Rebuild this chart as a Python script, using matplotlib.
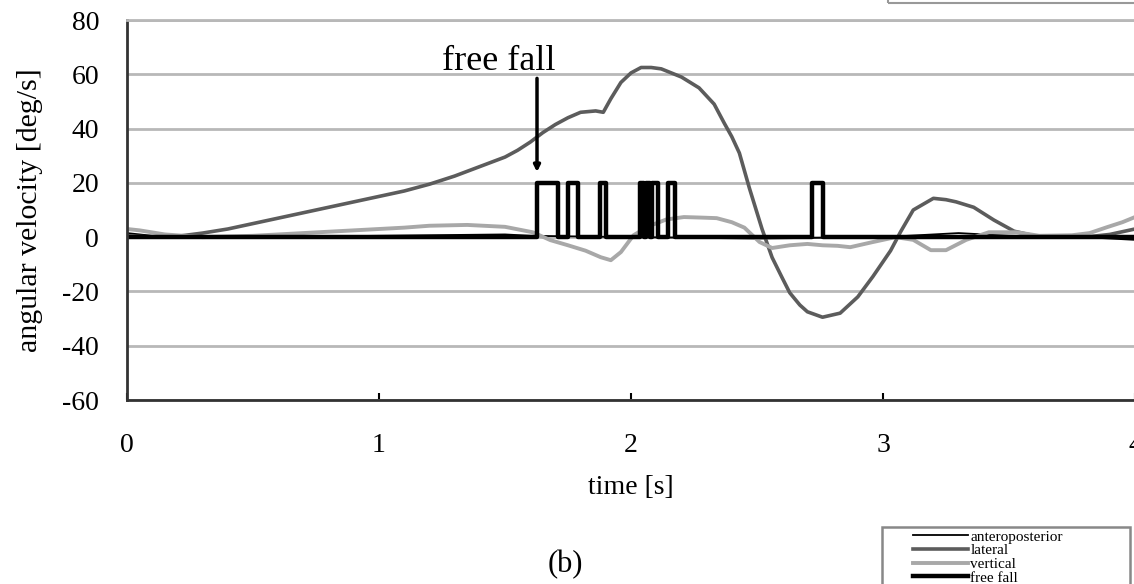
import matplotlib
matplotlib.use("Agg")
import matplotlib.pyplot as plt
from matplotlib.patches import Rectangle

plt.rcParams['font.family'] = ['Liberation Serif', 'DejaVu Serif']
plt.rcParams['axes.unicode_minus'] = False

# lateral angular velocity
lat_t = [0, 0.1, 0.2, 0.3, 0.4, 0.5, 0.6, 0.7, 0.8, 0.9, 1.0, 1.1, 1.2, 1.3, 1.4,
         1.5, 1.55, 1.6, 1.65, 1.7, 1.75, 1.8, 1.86, 1.89, 1.92, 1.96, 2.0, 2.04,
         2.08, 2.12, 2.16, 2.2, 2.27, 2.33, 2.37, 2.4, 2.43, 2.47, 2.52, 2.56, 2.6,
         2.63, 2.67, 2.7, 2.76, 2.83, 2.9, 2.96, 3.03, 3.07, 3.12, 3.2, 3.25, 3.29,
         3.36, 3.44, 3.52, 3.6, 3.7, 3.8, 3.9, 4.0]
lat_v = [0.5, 0, 0.3, 1.5, 3, 5, 7, 9, 11, 13, 15, 17, 19.5, 22.5, 26,
         29.5, 32, 35, 38.5, 41.5, 44, 46, 46.5, 46, 51, 57, 60.5, 62.5,
         62.5, 62, 60.5, 59, 55, 49, 42, 37, 31, 18, 3, -7.5, -15,
         -20.5, -25, -27.5, -29.5, -28, -22, -14.5, -5, 2, 10, 14.3, 13.8, 13,
         11, 6.3, 2.2, 0.5, 0, 0, 1, 3]

# vertical angular velocity
ver_t = [0, 0.05, 0.15, 0.3, 0.5, 0.7, 0.9, 1.1, 1.2, 1.35, 1.5, 1.61, 1.68, 1.75,
         1.82, 1.88, 1.92, 1.96, 2.01, 2.07, 2.14, 2.21, 2.28, 2.34, 2.4, 2.45,
         2.51, 2.56, 2.63, 2.7, 2.76, 2.82, 2.87, 2.96, 3.05, 3.12, 3.19, 3.25,
         3.33, 3.42, 3.53, 3.62, 3.75, 3.82, 3.89, 3.95, 4.0]
ver_v = [3, 2.5, 1, 0, 0.5, 1.5, 2.5, 3.5, 4.2, 4.5, 3.8, 1.8, -1.1, -3,
         -5, -7.4, -8.5, -5.5, 0.7, 4, 6.5, 7.4, 7.2, 7, 5.5, 3.5,
         -1.8, -4, -3, -2.5, -3, -3.2, -3.7, -1.8, 0, -1, -4.8, -4.8,
         -1, 1.8, 1.8, 0.5, 0.7, 1.5, 3.7, 5.5, 7.4]

# anteroposterior angular velocity
ap_t = [0, 0.1, 0.5, 1.0, 1.5, 1.6, 2.0, 2.5, 3.0, 3.2, 3.3, 3.5, 3.8, 4.0]
ap_v = [1.5, 0.5, 0, 0.5, 1, 0.5, 0, -0.5, 0, 1, 1.5, 0.5, 0, -1]

# free fall flag (0 / 20)
ff_on = [1.627, 1.750, 1.877, 2.036, 2.060, 2.085, 2.147, 2.718]
ff_off = [1.710, 1.790, 1.901, 2.050, 2.075, 2.107, 2.175, 2.762]
ff_level = 20

ff_t = [0]
ff_v = [0]
for on, off in zip(ff_on, ff_off):
    ff_t += [on, on, off, off]
    ff_v += [0, ff_level, ff_level, 0]
ff_t.append(4)
ff_v.append(0)

W, H = 1134, 584
fig = plt.figure(figsize=(W / 100, H / 100), dpi=100)
ax = fig.add_axes([127 / W, 1 - 400 / H, 1008 / W, 380 / H])

ax.plot(ap_t, ap_v, color='black', lw=1.3, label='anteroposterior')
ax.plot(lat_t, lat_v, color='#5c5c5c', lw=2.6, label='lateral')
ax.plot(ver_t, ver_v, color='#a8a8a8', lw=2.8, label='vertical')
ax.plot(ff_t, ff_v, color='black', lw=3.2, label='free fall')

ax.set_xlim(0, 4)
ax.set_ylim(-60, 80)
ax.set_xticks([0, 1, 2, 3, 4])
ax.set_yticks(range(-60, 81, 20))
ax.yaxis.grid(True, color='#b8b8b8', lw=2)
ax.set_axisbelow(True)
for s in ['left', 'bottom']:
    ax.spines[s].set_color('#333333')
    ax.spines[s].set_linewidth(2)
ax.spines['top'].set_color('#b8b8b8')
ax.spines['top'].set_linewidth(2)
ax.spines['right'].set_visible(False)
ax.tick_params(axis='x', direction='in', length=5, width=1.5, pad=24, labelsize=20)
ax.tick_params(axis='y', length=0, pad=20, labelsize=20)

ax.set_ylabel('angular velocity [deg/s]', fontsize=21.5)
ax.set_xlabel('time [s]', fontsize=20, labelpad=12)
ax.yaxis.set_label_coords(-84 / 1008, 0.5)

# "free fall" marker
ax.text(1.476, 61.5, 'free fall', fontsize=26, ha='center', va='baseline')
ax.annotate('', xy=(1.627, 24), xytext=(1.627, 58.5),
            arrowprops=dict(arrowstyle='-|>', color='black', lw=2.5,
                            mutation_scale=9, shrinkA=0, shrinkB=0))

fig.text(565 / W, 1 - 565 / H, '(b)', fontsize=22, ha='center', va='center')

# legend box (bottom right, cut by the image edge)
fig.patches.append(Rectangle((882 / W, -0.05), 248 / W, 0.05 + 57 / H,
                             transform=fig.transFigure, fill=False,
                             edgecolor='#888888', lw=1.8))
fig.legend(loc='upper left', bbox_to_anchor=(913 / W, 1 - 530 / H),
           fontsize=11, frameon=False, handlelength=3.6,
           handletextpad=0.15, labelspacing=0.0, borderpad=0,
           borderaxespad=0)

# edge of the neighbouring panel's legend box at the top right
fig.patches.append(Rectangle((888 / W, 1 - 3 / H), 0.3, 0.1, transform=fig.transFigure,
                             fill=False, edgecolor='#999999', lw=1.5))

fig.savefig('out.png', dpi=100)
